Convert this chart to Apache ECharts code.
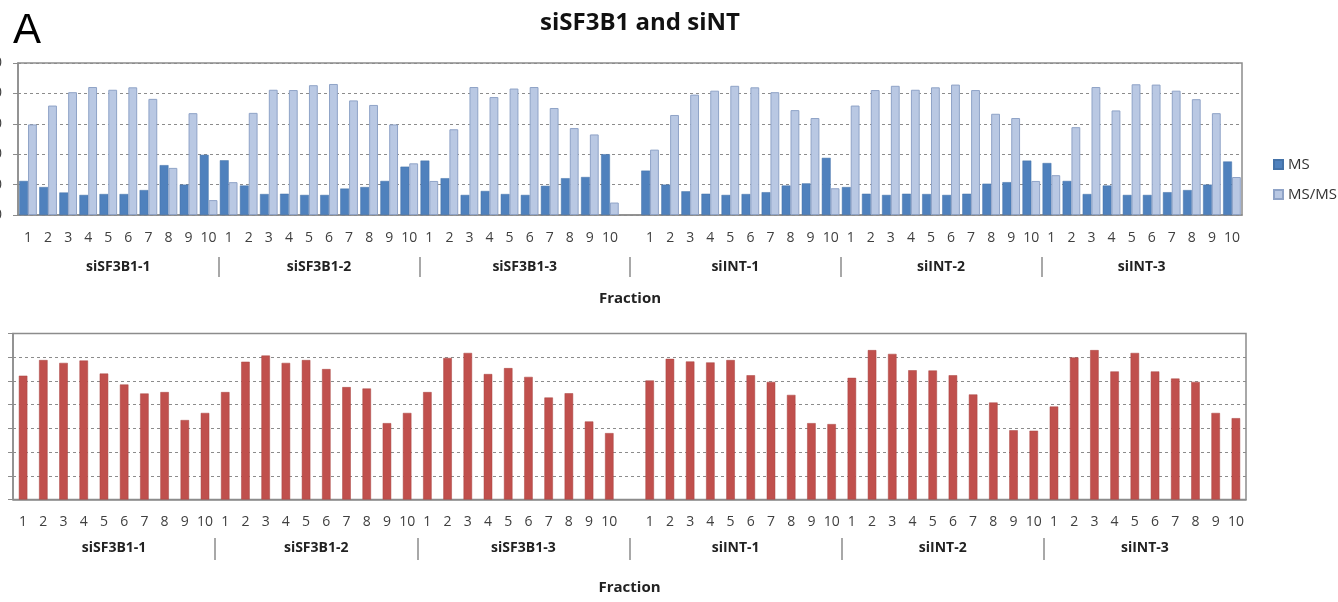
<!DOCTYPE html>
<html>
<head>
<meta charset="utf-8">
<script src="https://cdn.jsdelivr.net/npm/echarts@6/dist/echarts.min.js"></script>
<style>
  html, body { margin: 0; padding: 0; background: #fff; }
  #chart { width: 1338px; height: 602px; }
</style>
</head>
<body>
<div id="chart"></div>
<script>
// groups and fractions (a blank slot sits between siSF3B1-3 and siINT-1)
const groups = ['siSF3B1-1', 'siSF3B1-2', 'siSF3B1-3', 'siINT-1', 'siINT-2', 'siINT-3'];
const fractions = ['1', '2', '3', '4', '5', '6', '7', '8', '9', '10'];
const gapAfterGroup = 2;

// top panel
const msVals = [
  1.12, 0.92, 0.74, 0.66, 0.69, 0.69, 0.82, 1.64, 1.00, 1.98,
  1.80, 0.97, 0.69, 0.70, 0.66, 0.66, 0.87, 0.92, 1.12, 1.59,
  1.79, 1.21, 0.66, 0.79, 0.69, 0.66, 0.96, 1.21, 1.25, 2.00,
  1.46, 1.00, 0.78, 0.70, 0.66, 0.69, 0.75, 0.97, 1.04, 1.88,
  0.92, 0.70, 0.66, 0.70, 0.69, 0.66, 0.70, 1.03, 1.08, 1.79,
  1.71, 1.12, 0.69, 0.97, 0.66, 0.66, 0.75, 0.82, 1.00, 1.76
];
const msmsVals = [
  2.98, 3.60, 4.04, 4.21, 4.12, 4.20, 3.82, 1.55, 3.35, 0.49,
  1.08, 3.36, 4.12, 4.11, 4.27, 4.31, 3.77, 3.62, 2.98, 1.70,
  1.12, 2.82, 4.21, 3.88, 4.16, 4.21, 3.52, 2.86, 2.65, 0.41,
  2.15, 3.29, 3.96, 4.09, 4.25, 4.20, 4.04, 3.45, 3.19, 0.88,
  3.60, 4.11, 4.25, 4.12, 4.20, 4.29, 4.11, 3.33, 3.19, 1.12,
  1.31, 2.89, 4.21, 3.44, 4.30, 4.29, 4.09, 3.81, 3.35, 1.25
];
// bottom panel
const redVals = [
  5.22, 5.88, 5.76, 5.86, 5.31, 4.85, 4.47, 4.53, 3.35, 3.65,
  4.53, 5.81, 6.07, 5.76, 5.88, 5.50, 4.74, 4.68, 3.22, 3.65,
  4.53, 5.97, 6.18, 5.29, 5.54, 5.17, 4.30, 4.48, 3.29, 2.80,
  5.02, 5.93, 5.82, 5.78, 5.88, 5.24, 4.96, 4.41, 3.22, 3.18,
  5.13, 6.30, 6.14, 5.45, 5.44, 5.24, 4.43, 4.09, 2.92, 2.90,
  3.92, 5.99, 6.30, 5.40, 6.18, 5.40, 5.10, 4.96, 3.65, 3.43
];
const topTicks = [0, 1, 2, 3, 4, 5];
const bottomTicks = [0, 1, 2, 3, 4, 5, 6, 7];

// build the category list and where each group starts/ends
let cats = [];
let starts = [], ends = [];
groups.forEach((g, gi) => {
  starts.push(cats.length);
  fractions.forEach(f => cats.push(f));
  ends.push(cats.length);
  if (gi === gapAfterGroup) cats.push('');
});
const gapIdx = ends[gapAfterGroup];
function withGap(arr) {
  return arr.slice(0, gapIdx).concat([null], arr.slice(gapIdx));
}

// second level axis: quarter-category points, boundaryGap false
const Q = 4;
let bounds = [0];
for (let i = 0; i < groups.length - 1; i++) bounds.push(Q * (ends[i] + starts[i + 1]) / 2);
bounds.push(Q * cats.length);
let groupSlots = [];
for (let i = 0; i <= Q * cats.length; i++) groupSlots.push('');
groups.forEach((g, i) => { groupSlots[(bounds[i] + bounds[i + 1]) / 2] = g; });
const innerBounds = bounds.slice(1, -1);

const gray = '#8c8c8c';
const font = 'Open Sans';

function primaryX(gridIndex, margin) {
  return {
    type: 'category', gridIndex: gridIndex, data: cats,
    axisLine: { lineStyle: { color: gray, width: 1.5 } },
    axisTick: { length: 6, lineStyle: { color: gray } },
    axisLabel: { interval: 0, margin: margin, fontSize: 14, color: '#404040', fontFamily: font }
  };
}
function groupX(gridIndex, offset, tickLen, nameGap) {
  return {
    type: 'category', gridIndex: gridIndex, position: 'bottom', offset: offset,
    boundaryGap: false, data: groupSlots,
    axisLine: { show: false },
    axisTick: {
      show: true, length: tickLen,
      interval: (idx) => innerBounds.indexOf(idx) >= 0,
      lineStyle: { color: gray, width: 1.5 }
    },
    axisLabel: { interval: 0, margin: 3, fontSize: 14, fontWeight: 'bold', color: '#222', fontFamily: font },
    name: 'Fraction', nameLocation: 'middle', nameGap: nameGap,
    nameTextStyle: { fontSize: 15, fontWeight: 'bold', color: '#222', fontFamily: font }
  };
}
function valueY(gridIndex, ticks, showLabel) {
  return {
    type: 'value', gridIndex: gridIndex,
    min: ticks[0], max: ticks[ticks.length - 1], interval: ticks[1] - ticks[0],
    axisLine: { show: true, lineStyle: { color: gray, width: 1.5 } },
    axisTick: { show: true, length: 5, lineStyle: { color: gray } },
    axisLabel: { show: showLabel, margin: 16, fontSize: 14, color: '#404040', fontFamily: font,
                 formatter: v => String(v * 1000) },
    splitLine: { lineStyle: { color: gray, type: [3, 3] } }
  };
}

const chart = echarts.init(document.getElementById('chart'));
chart.setOption({
  animation: false,
  backgroundColor: '#fff',
  title: [
    { text: 'A', left: 8, top: 5,
      textStyle: { fontSize: 42, fontWeight: 'normal', fontFamily: 'Liberation Sans', color: '#000' } },
    { text: 'siSF3B1 and siNT', left: 635, textAlign: 'center', top: 6,
      textStyle: { fontSize: 24, fontWeight: 'bold', fontFamily: font, color: '#111' } }
  ],
  legend: {
    data: ['MS', 'MS/MS'], orient: 'vertical', left: 1268, top: 152,
    itemWidth: 9, itemHeight: 9, itemGap: 15, icon: 'rect',
    textStyle: { fontSize: 15, color: '#333', fontFamily: font }
  },
  grid: [
    { left: 18, right: 96, top: 63, height: 152, show: true, borderColor: gray, borderWidth: 1.5,
      outerBoundsMode: 'none' },
    { left: 13, right: 92, top: 333.5, height: 166, show: true, borderColor: gray, borderWidth: 1.5,
      outerBoundsMode: 'none' }
  ],
  xAxis: [
    primaryX(0, 16),
    groupX(0, 42, 20, 34),
    primaryX(1, 15.5),
    groupX(1, 38.5, 22, 42)
  ],
  yAxis: [
    valueY(0, topTicks, true),
    valueY(1, bottomTicks, false)
  ],
  series: [
    { name: 'MS', type: 'bar', xAxisIndex: 0, yAxisIndex: 0, data: withGap(msVals),
      barGap: '0%', barCategoryGap: '12%',
      itemStyle: { color: '#4F81BD', borderColor: '#4472A8', borderWidth: 0.5 } },
    { name: 'MS/MS', type: 'bar', xAxisIndex: 0, yAxisIndex: 0, data: withGap(msmsVals),
      barGap: '0%', barCategoryGap: '12%',
      itemStyle: { color: '#B9C8E3', borderColor: '#8FA3C7', borderWidth: 1 } },
    { name: 'Peptides', type: 'bar', xAxisIndex: 2, yAxisIndex: 1, data: withGap(redVals),
      barWidth: '42%',
      itemStyle: { color: '#C0504D', borderColor: '#A94441', borderWidth: 0.5 } }
  ]
});
</script>
</body>
</html>
